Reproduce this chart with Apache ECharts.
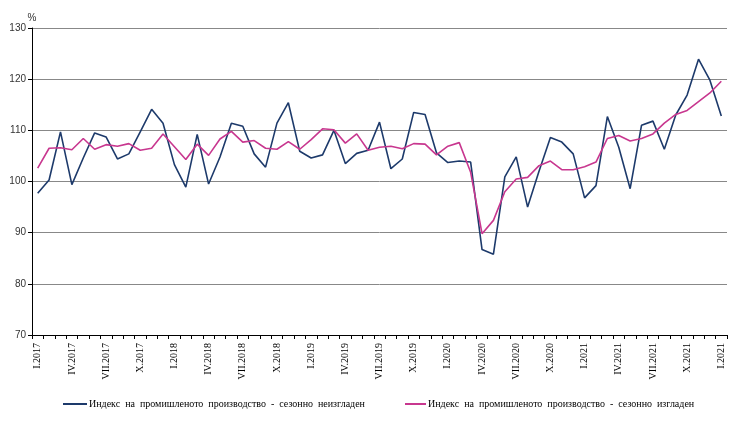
<!DOCTYPE html>
<html>
<head>
<meta charset="utf-8">
<script src="https://cdn.jsdelivr.net/npm/echarts@6/dist/echarts.min.js"></script>
<style>
html,body{margin:0;padding:0;background:#fff;}
#c{width:740px;height:431px;}
</style>
</head>
<body>
<div id="c"></div>
<script>
var months = [
 'I.2017','II.2017','III.2017','IV.2017','V.2017','VI.2017','VII.2017','VIII.2017','IX.2017','X.2017','XI.2017','XII.2017',
 'I.2018','II.2018','III.2018','IV.2018','V.2018','VI.2018','VII.2018','VIII.2018','IX.2018','X.2018','XI.2018','XII.2018',
 'I.2019','II.2019','III.2019','IV.2019','V.2019','VI.2019','VII.2019','VIII.2019','IX.2019','X.2019','XI.2019','XII.2019',
 'I.2020','II.2020','III.2020','IV.2020','V.2020','VI.2020','VII.2020','VIII.2020','IX.2020','X.2020','XI.2020','XII.2020',
 'I.2021','II.2021','III.2021','IV.2021','V.2021','VI.2021','VII.2021','VIII.2021','IX.2021','X.2021','XI.2021','XII.2021',
 'I.2021'
];
var unadjusted = [
 97.7,100.3,109.7,99.4,104.6,109.5,108.7,104.4,105.4,109.7,114.1,111.4,
 103.3,98.9,109.2,99.5,104.8,111.4,110.8,105.4,102.8,111.4,115.4,105.9,
 104.6,105.2,110.0,103.5,105.5,106.1,111.6,102.5,104.4,113.5,113.1,105.6,
 103.7,104.0,103.8,86.7,85.8,100.9,104.8,95.0,102.0,108.6,107.7,105.4,
 96.8,99.2,112.7,106.7,98.6,111.0,111.8,106.3,113.0,116.9,123.9,119.8,
 112.8
];
var adjusted = [
 102.6,106.5,106.6,106.2,108.4,106.3,107.2,106.9,107.4,106.1,106.5,109.3,
 106.8,104.3,107.3,105.1,108.3,109.8,107.7,108.0,106.5,106.3,107.8,106.3,
 108.2,110.3,110.1,107.5,109.3,106.1,106.7,106.9,106.4,107.4,107.3,105.2,
 106.9,107.6,101.8,89.8,92.4,98.0,100.5,100.8,103.1,104.0,102.3,102.3,
 102.9,103.8,108.4,109.0,107.9,108.4,109.3,111.4,113.1,113.9,115.6,117.3,
 119.6
];
var seriesNames = [
 'Индекс  на  промишленото  производство  -  сезонно  неизгладен',
 'Индекс  на  промишленото  производство  -  сезонно  изгладен'
];
var colors = ['#1D3A6B', '#C8378F'];

var chart = echarts.init(document.getElementById('c'));
var serif = 'Liberation Serif';
chart.setOption({
  animation: false,
  grid: {left: 32, right: 13, top: 28, bottom: 96, containLabel: false},
  legend: [
    {data: [seriesNames[0]], left: 58, top: 394, itemWidth: 24, itemHeight: 2, itemGap: 0, icon: 'rect',
     textStyle: {fontFamily: serif, fontSize: 10, color: '#000', padding: [0, 0, 0, -3]}},
    {data: [seriesNames[1]], left: 400, top: 394, itemWidth: 21, itemHeight: 2, itemGap: 0, icon: 'rect',
     textStyle: {fontFamily: serif, fontSize: 10, color: '#000', padding: [0, 0, 0, -3]}}
  ],
  xAxis: {
    type: 'category',
    data: months,
    boundaryGap: true,
    axisLine: {lineStyle: {color: '#000', width: 1}},
    axisTick: {show: true, interval: 0, length: 4, lineStyle: {color: '#000'}},
    axisLabel: {interval: 2, rotate: 90, margin: 8, fontFamily: serif, fontSize: 10, color: '#000'},
    splitLine: {show: false}
  },
  yAxis: {
    type: 'value',
    min: 70, max: 130, interval: 10,
    name: '%',
    nameLocation: 'end',
    nameGap: 5,
    nameTextStyle: {fontFamily: 'Liberation Sans', fontSize: 10, color: '#333', align: 'center'},
    axisLine: {show: true, lineStyle: {color: '#000', width: 1}},
    axisTick: {show: true, length: 4, lineStyle: {color: '#000'}},
    axisLabel: {margin: 6, fontFamily: 'Liberation Sans', fontSize: 10, color: '#333'},
    splitLine: {show: true, lineStyle: {color: '#888', width: 1}}
  },
  series: [
    {name: seriesNames[0], type: 'line', data: unadjusted, showSymbol: false, symbol: 'none',
     lineStyle: {color: colors[0], width: 1.6}, itemStyle: {color: colors[0]}},
    {name: seriesNames[1], type: 'line', data: adjusted, showSymbol: false, symbol: 'none',
     lineStyle: {color: colors[1], width: 1.6}, itemStyle: {color: colors[1]}}
  ]
});
</script>
</body>
</html>
